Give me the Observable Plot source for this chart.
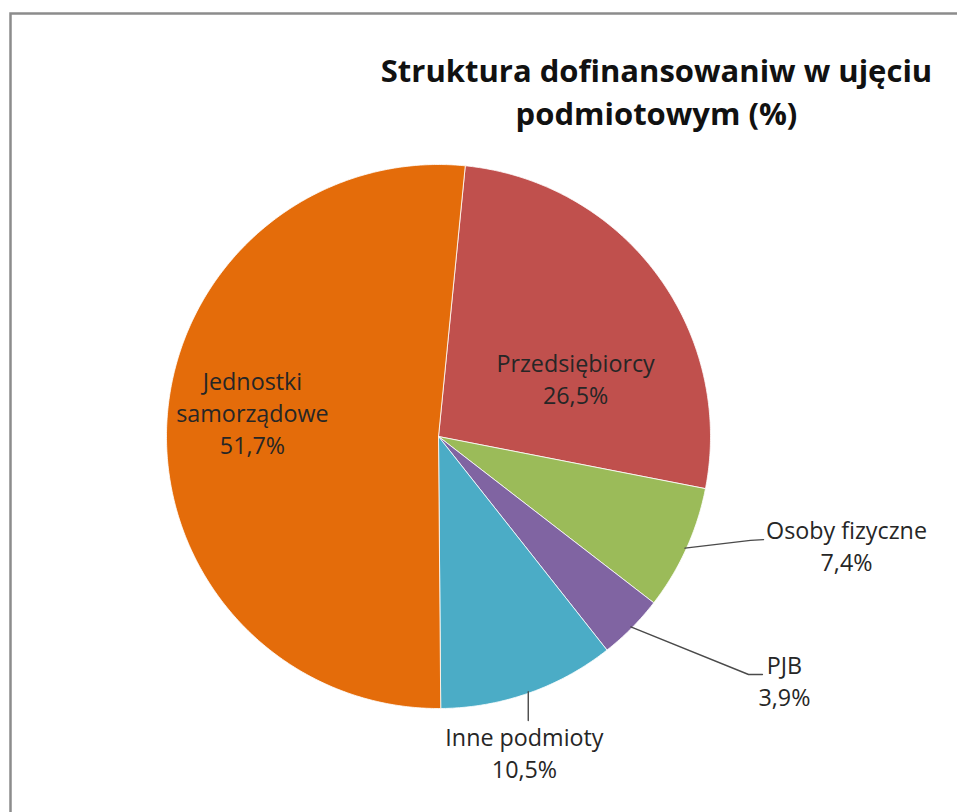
<!DOCTYPE html>
<html><head><meta charset="utf-8">
<script src="https://cdn.jsdelivr.net/npm/d3@7"></script>
<script src="https://cdn.jsdelivr.net/npm/@observablehq/plot@0.6"></script>
<style>html,body{margin:0;padding:0;background:#fff;overflow:hidden;}</style>
</head><body><div id="chart"></div>
<script>
// ---- data ----
const categories = ["Przedsiębiorcy", "Osoby fizyczne", "PJB", "Inne podmioty", "Jednostki samorządowe"];
const values = [26.5, 7.4, 3.9, 10.5, 51.7];
const valueLabels = ["26,5%", "7,4%", "3,9%", "10,5%", "51,7%"];
const nameLines = [["Przedsiębiorcy"], ["Osoby fizyczne"], ["PJB"], ["Inne podmioty"], ["Jednostki", "samorządowe"]];
const colors = ["#C0504D", "#9BBB59", "#8064A2", "#4BACC6", "#E46C0A"];
const titleLines = ["Struktura dofinansowaniw w ujęciu", "podmiotowym (%)"];

// ---- layout (unit radius = pie radius) ----
const startDeg = 5.65;            // first slice start, clockwise from 12 o'clock
const R = 272, CX = 438, CY = 436, W = 957, H = 812;
// label anchor (baseline of last line) in unit coordinates
const labelAnchor = [[0.504, 0.121], [1.50, -0.493], [1.272, -0.989], [0.316, -1.257], [-0.684, -0.066]];
// leader lines: null = label inside; otherwise extra points after the arc point
const leaderExtra = [null, [[1.147, -0.382], [1.195, -0.379]], [[1.140, -0.875], [1.191, -0.875]], "vertical", null];

const total = d3.sum(values);
const rad = d => d * Math.PI / 180;
let acc = startDeg;
const slices = categories.map((c, i) => {
  const a0 = acc, a1 = acc + values[i] / total * 360;
  acc = a1;
  return {name: c, a0, a1, mid: (a0 + a1) / 2};
});

const piePts = [];
for (const s of slices) {
  piePts.push({name: s.name, u: 0, v: 0});
  const n = Math.max(4, Math.ceil((s.a1 - s.a0) / 0.5));
  for (let k = 0; k <= n; k++) {
    const a = rad(s.a0 + (s.a1 - s.a0) * k / n);
    piePts.push({name: s.name, u: Math.sin(a), v: Math.cos(a)});
  }
  piePts.push({name: s.name, u: 0, v: 0});
}

const leaderPts = [];
slices.forEach((s, i) => {
  const ex = leaderExtra[i];
  if (!ex) return;
  const a = rad(s.mid);
  const p0 = {name: s.name, u: Math.sin(a) * 0.995, v: Math.cos(a) * 0.995};
  leaderPts.push(p0);
  if (ex === "vertical") {
    leaderPts.push({name: s.name, u: p0.u, v: -1.044});
  } else {
    for (const [u, v] of ex) leaderPts.push({name: s.name, u, v});
  }
});

const labels = slices.map((s, i) => ({
  name: s.name,
  u: labelAnchor[i][0], v: labelAnchor[i][1],
  text: [...nameLines[i], valueLabels[i]].join("\n")
}));

const labelSize = 23.3, titleSize = 31;
const plot = Plot.plot({
  width: W, height: H,
  margin: 0,
  x: {domain: [-CX / R, (W - CX) / R], axis: null},
  y: {domain: [(CY - H) / R, CY / R], axis: null},
  color: {domain: categories, range: colors},
  style: {fontFamily: "'Open Sans', sans-serif", background: "white", overflow: "visible"},
  marks: [
    Plot.frame({stroke: "#8c8c8c", strokeWidth: 2.5, insetLeft: 10, insetTop: 13, insetRight: -10, insetBottom: -10}),
    Plot.line(piePts, {x: "u", y: "v", z: "name", fill: "name", stroke: "white", strokeWidth: 0.8, curve: "linear"}),
    Plot.line(leaderPts, {x: "u", y: "v", z: "name", stroke: "#4a4a4a", strokeWidth: 1.4, curve: "linear"}),
    Plot.text(labels, {x: "u", y: "v", text: "text", fontSize: labelSize, lineAnchor: "bottom", lineHeight: 32 / labelSize, fill: "#262626", textAnchor: "middle"}),
    Plot.text([titleLines.join("\n")], {frameAnchor: "top", text: d => d, dx: 656 - W / 2, dy: 124, lineAnchor: "bottom", lineHeight: 43 / titleSize, fontSize: titleSize, fontWeight: "bold", fill: "#111"})
  ]
});
document.getElementById("chart").appendChild(plot);
</script>
</body></html>
